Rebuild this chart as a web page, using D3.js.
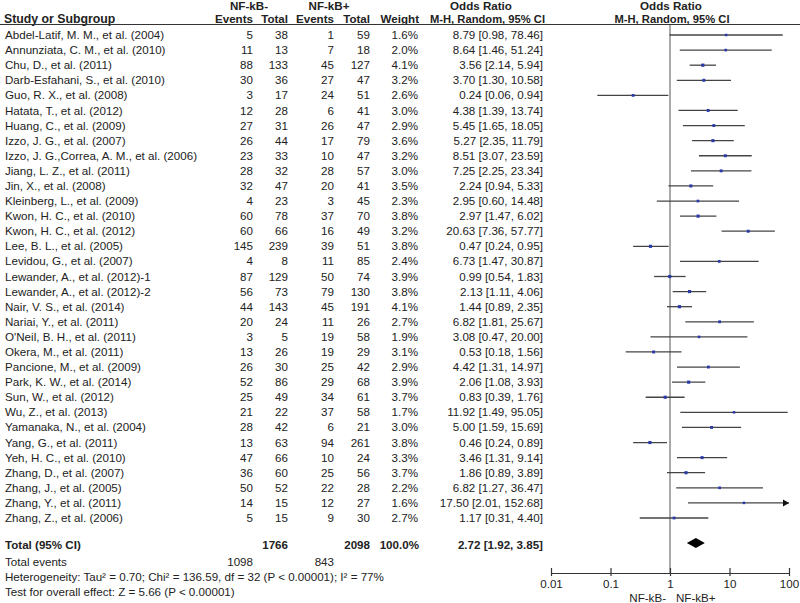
<!DOCTYPE html>
<html><head><meta charset="utf-8">
<script src="https://cdn.jsdelivr.net/npm/d3@7"></script>
<style>body{margin:0;background:#fff}svg text{font-family:"Liberation Sans",Arial,sans-serif;fill:#222}</style>
</head><body><svg id="c" width="800" height="603"></svg>
<script>
const studies = ["Abdel-Latif, M. M., et al. (2004)","Annunziata, C. M., et al. (2010)","Chu, D., et al. (2011)","Darb-Esfahani, S., et al. (2010)","Guo, R. X., et al. (2008)","Hatata, T., et al. (2012)","Huang, C., et al. (2009)","Izzo, J. G., et al. (2007)","Izzo, J. G.,Correa, A. M., et al. (2006)","Jiang, L. Z., et al. (2011)","Jin, X., et al. (2008)","Kleinberg, L., et al. (2009)","Kwon, H. C., et al. (2010)","Kwon, H. C., et al. (2012)","Lee, B. L., et al. (2005)","Levidou, G., et al. (2007)","Lewander, A., et al. (2012)-1","Lewander, A., et al. (2012)-2","Nair, V. S., et al. (2014)","Nariai, Y., et al. (2011)","O'Neil, B. H., et al. (2011)","Okera, M., et al. (2011)","Pancione, M., et al. (2009)","Park, K. W., et al. (2014)","Sun, W., et al. (2012)","Wu, Z., et al. (2013)","Yamanaka, N., et al. (2004)","Yang, G., et al. (2011)","Yeh, H. C., et al. (2010)","Zhang, D., et al. (2007)","Zhang, J., et al. (2005)","Zhang, Y., et al. (2011)","Zhang, Z., et al. (2006)"];
const negEvents = [5,11,88,30,3,12,27,26,23,28,32,4,60,60,145,4,87,56,44,20,3,13,26,52,25,21,28,13,47,36,50,14,5];
const negTotal  = [38,13,133,36,17,28,31,44,33,32,47,23,78,66,239,8,129,73,143,24,5,26,30,86,49,22,42,63,66,60,52,15,15];
const posEvents = [1,7,45,27,24,6,26,17,10,28,20,3,37,16,39,11,50,79,45,11,19,19,25,29,34,37,6,94,10,25,22,12,9];
const posTotal  = [59,18,127,47,51,41,47,79,47,57,41,45,70,49,51,85,74,130,191,26,58,29,42,68,61,58,21,261,24,56,28,27,30];
const weights   = [1.6,2.0,4.1,3.2,2.6,3.0,2.9,3.6,3.2,3.0,3.5,2.3,3.8,3.2,3.8,2.4,3.9,3.8,4.1,2.7,1.9,3.1,2.9,3.9,3.7,1.7,3.0,3.8,3.3,3.7,2.2,1.6,2.7];
const orVals    = [8.79,8.64,3.56,3.70,0.24,4.38,5.45,5.27,8.51,7.25,2.24,2.95,2.97,20.63,0.47,6.73,0.99,2.13,1.44,6.82,3.08,0.53,4.42,2.06,0.83,11.92,5.00,0.46,3.46,1.86,6.82,17.50,1.17];
const ciLow     = [0.98,1.46,2.14,1.30,0.06,1.39,1.65,2.35,3.07,2.25,0.94,0.60,1.47,7.36,0.24,1.47,0.54,1.11,0.89,1.81,0.47,0.18,1.31,1.08,0.39,1.49,1.59,0.24,1.31,0.89,1.27,2.01,0.31];
const ciHigh    = [78.46,51.24,5.94,10.58,0.94,13.74,18.05,11.79,23.59,23.34,5.33,14.48,6.02,57.77,0.95,30.87,1.83,4.06,2.35,25.67,20.00,1.56,14.97,3.93,1.76,95.05,15.69,0.89,9.14,3.89,36.47,152.68,4.40];
const total = {negTotal:1766, posTotal:2098, weight:"100.0%", or:2.72, lo:1.92, hi:3.85, negEvents:1098, posEvents:843};
const axisTicks = [0.01,0.1,1,10,100];
const axisTickLabels = ["0.01","0.1","1","10","100"];

const svg = d3.select("#c");
const x = d3.scaleLog().domain([0.01,100]).range([551,789]);
const y = d3.scaleLinear().domain([0,32]).range([35,518]);
const fmt = d3.format(".2f");
const fs = 11.6;

function txt(t, xx, yy, anchor, bold, size){
  return svg.append("text").attr("x",xx).attr("y",yy).attr("dy","0.35em")
    .attr("text-anchor",anchor||"start").attr("font-size",size||fs)
    .attr("font-weight",bold?"bold":"normal").text(t);
}

// headers
const hs = 11.6;
txt("NF-kB-", 249, 6, "middle", true, hs);
txt("NF-kB+", 329, 6, "middle", true, hs);
txt("Odds Ratio", 481, 6, "middle", true, hs);
txt("Odds Ratio", 671, 6, "middle", true, hs);
txt("Study or Subgroup", 4, 19, "start", true, 12.3);
txt("Events", 253, 19, "end", true, hs);
txt("Total", 288, 19, "end", true, hs);
txt("Events", 334, 19, "end", true, hs);
txt("Total", 370, 19, "end", true, hs);
txt("Weight", 419, 19, "end", true, hs);
txt("M-H, Random, 95% CI", 545, 19, "end", true, 11.2);
txt("M-H, Random, 95% CI", 672, 19, "middle", true, 11.2);
svg.append("line").attr("x1",0).attr("x2",800).attr("y1",24.5).attr("y2",24.5).attr("stroke","#333").attr("stroke-width",1);

// rows
studies.forEach((s,i)=>{
  const yy = y(i);
  txt(s, 5, yy);
  txt(negEvents[i], 253, yy, "end");
  txt(negTotal[i], 288, yy, "end");
  txt(posEvents[i], 334, yy, "end");
  txt(posTotal[i], 370, yy, "end");
  txt(weights[i].toFixed(1)+"%", 418, yy, "end");
  txt(fmt(orVals[i])+" ["+fmt(ciLow[i])+", "+fmt(ciHigh[i])+"]", 543, yy, "end");
});

// null line
svg.append("line").attr("x1",x(1)).attr("x2",x(1)).attr("y1",25).attr("y2",573).attr("stroke","#555").attr("stroke-width",1);

// CI lines and squares
const plotG = svg.append("g");
studies.forEach((s,i)=>{
  const yy = y(i);
  const hi = Math.min(ciHigh[i],100), lo = Math.max(ciLow[i],0.01);
  plotG.append("line").attr("x1",x(lo)).attr("x2",x(hi)).attr("y1",yy).attr("y2",yy)
    .attr("stroke","#444").attr("stroke-width",1.3);
  if (ciHigh[i] > 100) {
    const ax = x(100);
    plotG.append("path").attr("d",`M${ax},${yy} L${ax-6},${yy-3.5} L${ax-6},${yy+3.5} Z`).attr("fill","#111");
  }
  const sz = 2 + weights[i]*0.3;
  plotG.append("rect").attr("x",x(orVals[i])-sz/2).attr("y",yy-sz/2).attr("width",sz).attr("height",sz).attr("fill","#2a3aa8");
});

// total row
const ty = 545;
txt("Total (95% CI)", 5, ty, "start", true);
txt(total.negTotal, 288, ty, "end", true);
txt(total.posTotal, 370, ty, "end", true);
txt(total.weight, 419, ty, "end", true);
txt(fmt(total.or)+" ["+fmt(total.lo)+", "+fmt(total.hi)+"]", 543, ty, "end", true);
const dy = 543;
svg.append("path").attr("d",`M${x(total.lo)},${dy} L${x(total.or)},${dy-5} L${x(total.hi)},${dy} L${x(total.or)},${dy+5} Z`).attr("fill","#000");

txt("Total events", 5, 562);
txt(total.negEvents, 253, 562, "end");
txt(total.posEvents, 334, 562, "end");
txt("Heterogeneity: Tau\u00B2 = 0.70; Chi\u00B2 = 136.59, df = 32 (P < 0.00001); I\u00B2 = 77%", 5, 577);
txt("Test for overall effect: Z = 5.66 (P < 0.00001)", 5, 592);

// axis
const axisY = 573;
const ax = d3.axisBottom(x).tickValues(axisTicks).tickFormat((d,i)=>axisTickLabels[i]).tickSize(0).tickPadding(7);
const ag = svg.append("g").attr("transform",`translate(0,${axisY})`).call(ax);
ag.select(".domain").attr("stroke","#333").attr("stroke-width",1.2);
ag.selectAll(".tick line").remove();
ag.selectAll(".tick").append("line").attr("y1",-5).attr("y2",3).attr("stroke","#333").attr("stroke-width",1.2);
ag.selectAll("text").attr("font-size",fs).attr("fill","#222").style("font-family","'Liberation Sans',Arial,sans-serif");
txt("NF-kB-", 666, 598, "end");
txt("NF-kB+", 676, 598, "start");
</script></body></html>
